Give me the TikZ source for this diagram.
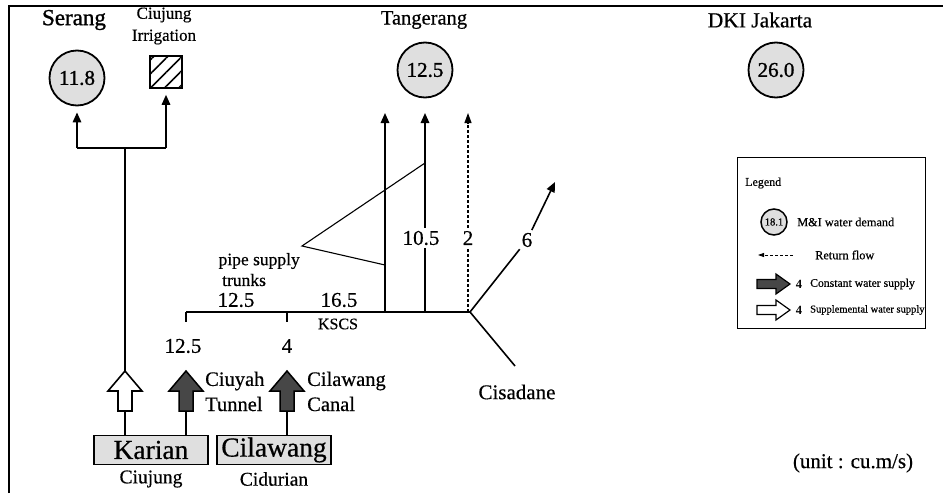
\documentclass[tikz,border=0pt]{standalone}
\usepackage{fontspec}
\setmainfont{Liberation Serif}
\newfontfamily\scanfont{Liberation Serif}[FakeBold=0.5]
\newfontfamily\scanheavy{Liberation Serif}[FakeBold=1.2]
\usetikzlibrary{arrows.meta,patterns.meta}
\begin{document}
\begin{tikzpicture}[x=1pt,y=-1pt,
  lbl/.style={inner sep=0pt},
  fs/.style={font=\scanfont\fontsize{#1}{#1}\selectfont},
  fsh/.style={font=\scanheavy\fontsize{#1}{#1}\selectfont},
  line/.style={line width=1.6pt},
  thinline/.style={line width=1.1pt},
  arr/.style={line width=1.6pt,-{Triangle[length=10pt,width=8.5pt]}},
  ret/.style={line width=1.1pt,densely dashed},
  retarr/.style={ret,-{Triangle[length=10pt,width=7pt]}},
  demand/.style={circle,draw,line width=1.8pt,fill=gray!25,minimum size=55pt,inner sep=0pt,fsh=21},
  resbox/.style={draw,line width=1.8pt,fill=gray!25,minimum width=114pt,minimum height=29pt,inner sep=0pt,fs=27.5},
  constfill/.style={draw=black,line width=1.5pt,fill=black!72},
  suppfill/.style={draw=black,line width=1.6pt,fill=white},
  blockup/.pic={\path[pic actions] (0,0) -- (17,20) -- (7,20) -- (7,40) -- (-7,40) -- (-7,20) -- (-17,20) -- cycle;},
  blockright/.pic={\path[pic actions] (0,0) -- (-14,-10) -- (-14,-4.5) -- (-33,-4.5) -- (-33,4.5) -- (-14,4.5) -- (-14,10) -- cycle;}
]
\useasboundingbox (0,0) rectangle (943,493);
% frame
\coordinate (fbl) at (9,493);
\coordinate (ftl) at (9,6);
\coordinate (ftr) at (943,6);
\draw[line width=1.2pt] (fbl) -- (ftl) -- (ftr);

% ---- demand nodes
\node[fsh=23,lbl] (serangT) at (74,20) {Serang};
\node[demand] (serang) at (77,78) {11.8};
\node[fs=17,lbl] (irrT1) at (164,15) {Ciujung};
\node[fs=17,lbl] (irrT2) at (164,37) {Irrigation};
\node[draw,line width=1.8pt,minimum size=32pt,inner sep=0pt,
      pattern={Lines[angle=45,distance=10pt,line width=1.6pt]}] (irr) at (166,72) {};
\node[fs=20.5,lbl] (tangT) at (424,20) {Tangerang};
\node[demand] (tang) at (425,70) {12.5};
\node[fs=21.5,lbl] (dkiT) at (760,20) {DKI Jakarta};
\node[demand] (dki) at (776,70) {26.0};

% ---- Karian branch to Serang / Irrigation
\coordinate (jl) at (77,148);
\coordinate (jr) at (166,148);
\coordinate (jc) at (125,148);
\draw[line] (jl) -- (jr);
\draw[arr,shorten >=6pt] (jl) -- (serang);
\draw[arr,shorten >=6pt] (jr) -- (irr);

% ---- reservoirs
\node[resbox] (karian) at (151,450) {Karian};
\node[resbox] (cilawang) at (274,450) {Cilawang};
\node[fs=19.5,lbl] (ciujungT) at (151,479) {Ciujung};
\node[fs=19.5,lbl] (cidurianT) at (274,479) {Cidurian};

% ---- block arrows
\coordinate (katip) at (125,371);
\coordinate (kabase) at (125,411);
\coordinate (ctip) at (186,371);
\coordinate (cbase) at (186,411);
\coordinate (wtip) at (287,371);
\coordinate (wbase) at (287,411);
\pic[suppfill] at (katip) {blockup};
\pic[constfill] at (ctip) {blockup};
\pic[constfill] at (wtip) {blockup};
\draw[line] (jc) -- (katip);
\draw[line] (kabase) -- (kabase |- karian.north);
\draw[line] (cbase) -- (cbase |- karian.north);
\draw[line] (wbase) -- (wbase |- cilawang.north);

\node[fs=20.5,lbl,anchor=west] (ciuyahT) at (205,381) {Ciuyah};
\node[fs=20.5,lbl,anchor=west] (tunnelT) at (205,404) {Tunnel};
\node[fs=20.5,lbl,anchor=west] (cilawangT) at (307,381) {Cilawang};
\node[fs=20.5,lbl,anchor=west] (canalT) at (307,404) {Canal};

% ---- main line (KSCS)
\coordinate (ml) at (186,312);
\coordinate (m4) at (287,312);
\coordinate (fork) at (470,312);
\draw[line] (ml) -- (fork);
\draw[line] (ml) -- ++(0,10);
\draw[line] (m4) -- ++(0,10);
\node[fs=21,lbl] (in125) at (183,346) {12.5};
\node[fs=21,lbl] (in4) at (287,346) {4};
\node[fs=21,lbl] (f125) at (236,300) {12.5};
\node[fs=21,lbl] (f165) at (339,300) {16.5};
\node[fs=16,lbl] (kscs) at (338,324) {KSCS};

% ---- supply to Tangerang
\coordinate (v1b) at (385,312);
\coordinate (v1t) at (385,113);
\coordinate (v2b) at (425,312);
\coordinate (v2t) at (425,113);
\coordinate (v3t) at (468,113);
\draw[arr] (v1b) -- (v1t);
\node[fs=21,lbl] (l105) at (421,238) {10.5};
\draw[line] (v2b) -- ([yshift=-3pt]v2b |- l105.south);
\draw[arr] ([yshift=3pt]v2b |- l105.north) -- (v2t);
\node[fs=21,lbl] (l2) at (468,238) {2};
\coordinate (v3b) at (468,312);
\draw[ret] (v3b) -- ([yshift=-3pt]l2.south);
\draw[retarr] ([yshift=3pt]l2.north) -- (v3t);

% ---- pipe supply trunks pointer
\coordinate (vup) at (425,163);
\coordinate (vapex) at (302,246);
\coordinate (vlow) at (385,265);
\draw[thinline] (vup) -- (vapex) -- (vlow);
\node[fs=17.5,lbl,anchor=east] (pipeT) at (300,261) {pipe supply};
\node[fs=17.5,lbl,anchor=west] (trunksT) at (222,280) {trunks};

% ---- DKI and Cisadane
\node[fs=21,lbl] (l6) at (527,240) {6};
\coordinate (dkitip) at (555,182);
\draw[line,shorten >=3pt] (fork) -- (l6);
\draw[arr,shorten <=3pt] (l6) -- (dkitip);
\coordinate (cisend) at (515,366);
\draw[line] (fork) -- (cisend);
\node[fs=21,lbl] (cisT) at (517,392) {Cisadane};

% ---- legend
\node[draw,line width=1.2pt,minimum width=188pt,minimum height=171pt,anchor=north west,inner sep=0pt] (legend) at (737,157) {};
\node[fs=12,lbl,anchor=west] (legT) at (745,183) {Legend};
\node[circle,draw,line width=1.5pt,fill=gray!25,minimum size=26pt,inner sep=0pt,fs=10.5] (legc) at (774,222) {18.1};
\node[fs=12.3,lbl,anchor=west] (legcT) at (797,222) {M\&I water demand};
\coordinate (rfs) at (793,255);
\coordinate (rfe) at (758,255);
\draw[ret,line width=0.8pt,-{Triangle[length=6pt,width=4pt]}] (rfs) -- (rfe);
\node[fs=12.3,lbl,anchor=west] (rfT) at (815,255) {Return flow};
\coordinate (cwtip) at (790,284);
\coordinate (swtip) at (790,310);
\pic[constfill,line width=1.2pt] at (cwtip) {blockright};
\pic[suppfill,line width=1.2pt] at (swtip) {blockright};
\node[lbl,font=\fontsize{12.5}{12.5}\bfseries] (cw4) at (799,284) {4};
\node[fs=11.7,lbl,anchor=west] (cwT) at (810,284) {Constant water supply};
\node[lbl,font=\fontsize{12.5}{12.5}\bfseries] (sw4) at (799,310) {4};
\node[fs=10.5,lbl,anchor=west] (swT) at (810,310) {Supplemental water supply};

\node[fs=21,lbl] (unitT) at (853,463) {(unit : cu.m/s)};
\end{tikzpicture}
\end{document}
